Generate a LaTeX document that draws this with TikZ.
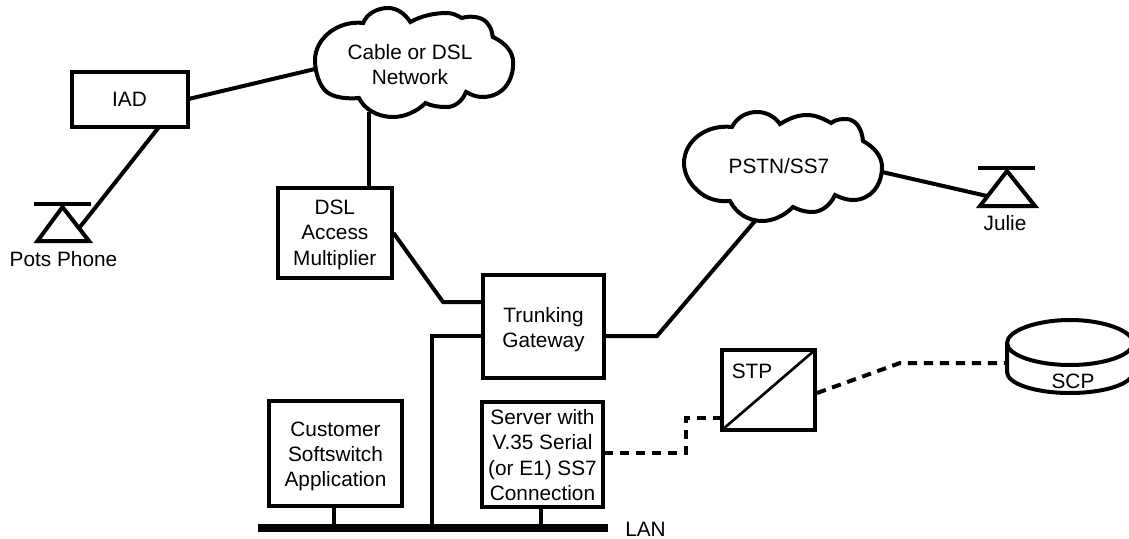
\documentclass[tikz,border=0pt]{standalone}
\usepackage{fontspec}
\setmainfont{Liberation Sans}
\newcommand{\firstline}[1]{\rule{0pt}{#1}}
\tikzset{
  box/.style={draw,line width=3pt,fill=white,outer sep=0pt,inner sep=0pt,align=center,font=\fontsize{15.6}{19}\selectfont},
  lbl/.style={inner sep=0pt,align=center,font=\fontsize{15.6}{19}\selectfont},
  wire/.style={line width=3pt,line join=miter},
  dashwire/.style={line width=3pt,dash pattern=on 7pt off 5pt},
  outline/.style={line width=3pt,fill=white},
  thin rule/.style={line width=2pt}
}
\begin{document}
\begin{tikzpicture}[x=0.75pt,y=-0.75pt]
\useasboundingbox (0,0) rectangle (1129,539);
% anchors
\coordinate (cloudAw) at (315,69);
\coordinate (cloudAs) at (369,112);
\coordinate (cloudBs) at (755,221);
\coordinate (cloudBe) at (882,172);
\coordinate (phoneAr) at (80,227);
\coordinate (phoneBl) at (987,196);
\coordinate (bendA) at (443,302);
\coordinate (bendB) at (657,336);
\coordinate (bendC) at (432,336);
\coordinate (bendD) at (686,453);
\coordinate (bendE) at (686,418);
\coordinate (bendF) at (900,363);
\coordinate (scpW) at (1006,363);
% wires under the shapes
\draw[wire] (cloudAs) -- (369,188);
\draw[wire] (188.5,99) -- (cloudAw);
\draw[wire] (159,127) -- (phoneAr);
\draw[wire] (393.5,233) -- (bendA) -- (483,302);
\draw[wire] (604,336) -- (bendB) -- (cloudBs);
\draw[wire] (483,336) -- (bendC) -- (432,528);
\draw[wire] (cloudBe) -- (phoneBl);
\draw[wire] (334,506) -- (334,528);
\draw[wire] (541,507) -- (541,528);
\draw[dashwire] (604,453) -- (bendD) -- (bendE) -- (722,418);
\draw[dashwire] (817,393) -- (bendF) -- (scpW);
% clouds
\begin{scope}[x=0.8036pt]
\draw[outline] (294,60) .. controls (294,38) and (316,20) .. (339,23)
 .. controls (342,14) and (352,8) .. (362,8) .. controls (371,8) and (378,14) .. (383,22)
 .. controls (393,16) and (405,13) .. (417,13) .. controls (422,13) and (426,15) .. (431,18)
 .. controls (440,15) and (452,17) .. (456,25) .. controls (459,29) and (459,33) .. (460,37)
 .. controls (472,43) and (479,52) .. (479,63) .. controls (479,80) and (470,97) .. (450,97)
 .. controls (445,97) and (440,95) .. (435,92)
 .. controls (431,102) and (424,107) .. (417,107) .. controls (409,107) and (403,106) .. (397,103)
 .. controls (390,111) and (378,117) .. (367,117) .. controls (352,117) and (340,109) .. (335,98)
 .. controls (325,99) and (312,98) .. (305,92) .. controls (298,86) and (294,72) .. (294,60) -- cycle;
\end{scope}
\draw[outline] (684,163) .. controls (684,142) and (705,124) .. (732,127)
 .. controls (737,117) and (747,112) .. (757,112) .. controls (767,112) and (775,117) .. (780,124)
 .. controls (790,118) and (798,115) .. (807,115) .. controls (816,115) and (824,119) .. (831,123)
 .. controls (836,119) and (842,119) .. (847,119) .. controls (857,120) and (862,130) .. (863,141)
 .. controls (874,147) and (882,156) .. (882,167) .. controls (882,186) and (870,200) .. (853,200)
 .. controls (847,200) and (841,198) .. (835,195)
 .. controls (830,206) and (821,212) .. (812,212) .. controls (805,212) and (799,210) .. (793,207)
 .. controls (785,215) and (774,221) .. (762,221) .. controls (748,221) and (736,213) .. (730,201)
 .. controls (718,202) and (706,199) .. (697,190) .. controls (689,183) and (684,173) .. (684,163) -- cycle;
\node[lbl] (cloudA) at (410,64.5) {Cable or DSL\\Network};
\node[lbl] (cloudB) at (779,166) {PSTN/SS7};
% boxes
\node[box,minimum width=116pt*0.75,minimum height=55pt*0.75] (iad) at (129.5,99.5) {IAD};
\node[box,minimum width=114.5pt*0.75,minimum height=90pt*0.75] (dslam) at (334.8,233) {\firstline{13.5pt}DSL\\Access\\Multiplier};
\node[box,minimum width=121pt*0.75,minimum height=103pt*0.75] (trunk) at (543.5,326.5) {\firstline{15.8pt}Trunking\\Gateway};
\node[box,minimum width=133pt*0.75,minimum height=105pt*0.75] (softsw) at (335.5,453.5) {\firstline{15pt}Customer\\Softswitch\\Application};
\node[box,minimum width=121pt*0.75,minimum height=105pt*0.75] (server) at (542.5,454.5) {\firstline{12pt}Server with\\V.35 Serial\\(or E1) SS7\\Connection};
\node[box,minimum width=93pt*0.75,minimum height=80pt*0.75] (stp) at (768.5,390) {};
\draw[thin rule] (stp.south west) -- (stp.north east);
\node[lbl] (stpt) at (752,371) {STP};
% LAN bus
\fill (258,524) rectangle (608,532);
\node[lbl,anchor=west] (lan) at (625,529) {LAN};
% phones
\draw[line width=3pt] (34,203.5) -- (91,203.5);
\draw[line width=3pt] (62.5,207) -- (89,241) -- (37.5,241) -- cycle;
\node[lbl] (pots) at (63.5,259) {Pots Phone};
\draw[line width=3pt] (978,168) -- (1035,168);
\draw[line width=3pt] (1007,171) -- (1035,206) -- (980,206) -- cycle;
\node[lbl] (julie) at (1005,223) {Julie};
% SCP
\draw[outline] (1007,343) -- (1007,372) .. controls (1007,384) and (1036,393) .. (1070,393)
  .. controls (1104,393) and (1133,384) .. (1133,372) -- (1133,343)
  .. controls (1133,331) and (1104,320) .. (1070,320) .. controls (1036,320) and (1007,331) .. (1007,343) -- cycle;
\draw[line width=3pt] (1007,343) .. controls (1007,355) and (1036,365) .. (1070,365) .. controls (1104,365) and (1133,355) .. (1133,343);
\node[lbl] (scp) at (1073,381) {SCP};
\end{tikzpicture}
\end{document}
